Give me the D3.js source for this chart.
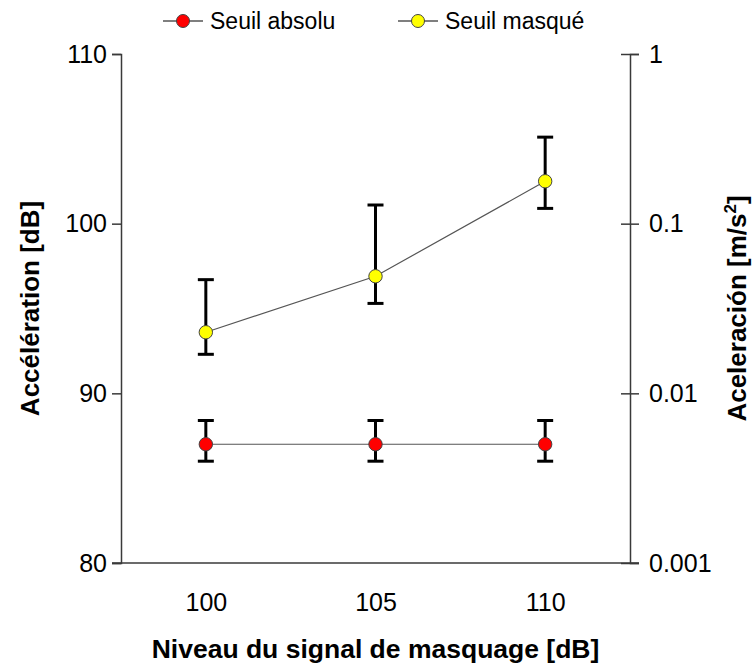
<!DOCTYPE html>
<html>
<head>
<meta charset="utf-8">
<script src="https://cdn.jsdelivr.net/npm/d3@7"></script>
<style>
  body { margin: 0; background: #fff; }
  svg { font-family: "Liberation Sans", Arial, sans-serif; }
</style>
</head>
<body>
<svg id="chart" width="754" height="663"></svg>
<script>
var levels = ["100", "105", "110"];
var absolu = [87.0, 87.0, 87.0];
var absoluHi = [88.4, 88.4, 88.4];
var absoluLo = [86.0, 86.0, 86.0];
var masque = [93.6, 96.9, 102.5];
var masqueHi = [96.7, 101.1, 105.1];
var masqueLo = [92.3, 95.3, 100.9];
var leftTicks = [80, 90, 100, 110];
var rightTicks = [0.001, 0.01, 0.1, 1];

var svg = d3.select("#chart");
var pLeft = 121, pRight = 630, pTop = 54, pBottom = 563;

var x = d3.scalePoint().domain(levels).range([pLeft, pRight]).padding(0.5);
var y = d3.scaleLinear().domain([80, 110]).range([pBottom, pTop]);
var y2 = d3.scaleLog().domain([0.001, 1]).range([pBottom, pTop]);

var axisCol = "#3a3a3a";
var fontFam = "Liberation Sans, Arial, sans-serif";

// left axis
var gl = svg.append("g").attr("transform", "translate(" + pLeft + ",0)")
  .call(d3.axisLeft(y).tickValues(leftTicks).tickSize(9).tickPadding(5));
gl.select(".domain").attr("stroke", axisCol).attr("stroke-width", 1.5);
gl.selectAll(".tick line").attr("stroke", axisCol).attr("stroke-width", 1.5);
gl.selectAll(".tick text").attr("font-size", 25).attr("fill", "#000").attr("font-family", fontFam);

// right axis
var gr = svg.append("g").attr("transform", "translate(" + pRight + ",0)")
  .call(d3.axisRight(y2).tickValues(rightTicks).tickSize(9).tickPadding(10)
    .tickFormat(function(d) { return String(d); }));
gr.select(".domain").attr("stroke", axisCol).attr("stroke-width", 1.5);
gr.selectAll(".tick line").attr("x1", -9).attr("stroke", axisCol).attr("stroke-width", 1.5);
gr.selectAll(".tick text").attr("font-size", 25).attr("fill", "#000").attr("font-family", fontFam);

// bottom axis (no ticks)
var gb = svg.append("g").attr("transform", "translate(0," + pBottom + ")")
  .call(d3.axisBottom(x).tickSize(0).tickPadding(30));
gb.select(".domain").attr("d", "M" + (pLeft - 9) + ",0H" + (pRight + 9))
  .attr("stroke", axisCol).attr("stroke-width", 1.5);
gb.selectAll(".tick text").attr("font-size", 25).attr("fill", "#000").attr("font-family", fontFam);

// titles
svg.append("text")
  .attr("x", (pLeft + pRight) / 2).attr("y", 658)
  .attr("text-anchor", "middle").attr("font-size", 26.5).attr("font-weight", "bold")
  .text("Niveau du signal de masquage [dB]");
svg.append("text")
  .attr("transform", "translate(39," + (pTop + pBottom) / 2 + ") rotate(-90)")
  .attr("text-anchor", "middle").attr("font-size", 26).attr("font-weight", "bold")
  .text("Accélération [dB]");
var rt = svg.append("text")
  .attr("transform", "translate(746," + (pTop + pBottom) / 2 + ") rotate(-90)")
  .attr("text-anchor", "middle").attr("font-size", 26).attr("font-weight", "bold");
rt.append("tspan").text("Aceleración [m/s");
rt.append("tspan").attr("font-size", 17).attr("dy", -10).text("2");
rt.append("tspan").attr("dy", 10).text("]");

var series = [
  { name: "Seuil absolu", vals: absolu, hi: absoluHi, lo: absoluLo, fill: "#ff0000" },
  { name: "Seuil masqué", vals: masque, hi: masqueHi, lo: masqueLo, fill: "#ffff00" }
];

var line = d3.line().x(function(d, i) { return x(levels[i]); }).y(function(d) { return y(d); });

series.forEach(function(s) {
  var g = svg.append("g");
  g.append("path").attr("d", line(s.vals)).attr("fill", "none")
    .attr("stroke", "#555").attr("stroke-width", 1.2);
  levels.forEach(function(l, i) {
    var cx = x(l);
    g.append("line").attr("x1", cx).attr("x2", cx)
      .attr("y1", y(s.hi[i])).attr("y2", y(s.lo[i]))
      .attr("stroke", "#000").attr("stroke-width", 3);
    [s.hi[i], s.lo[i]].forEach(function(v) {
      g.append("line").attr("x1", cx - 8).attr("x2", cx + 8)
        .attr("y1", y(v)).attr("y2", y(v))
        .attr("stroke", "#000").attr("stroke-width", 3);
    });
  });
  g.selectAll("circle").data(s.vals).enter().append("circle")
    .attr("cx", function(d, i) { return x(levels[i]); })
    .attr("cy", function(d) { return y(d); })
    .attr("r", 6.7).attr("fill", s.fill).attr("stroke", "#444").attr("stroke-width", 1);
});

// legend
var legX = [163, 398];
series.forEach(function(s, i) {
  var lg = svg.append("g").attr("transform", "translate(" + legX[i] + ",21)");
  lg.append("line").attr("x1", 0).attr("x2", 40).attr("stroke", "#555").attr("stroke-width", 1.5);
  lg.append("circle").attr("cx", 20).attr("r", 6.5).attr("fill", s.fill)
    .attr("stroke", "#444").attr("stroke-width", 1);
  lg.append("text").attr("x", 47).attr("y", 8).attr("font-size", 23).text(s.name);
});
</script>
</body>
</html>
